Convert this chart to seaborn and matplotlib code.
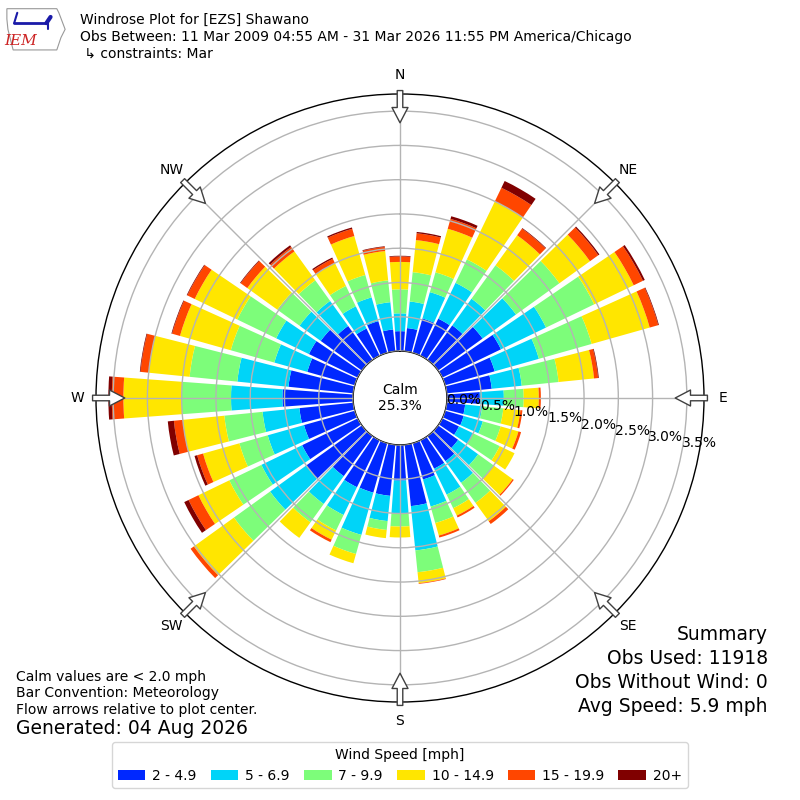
import numpy as np
import matplotlib
matplotlib.use("Agg")
import matplotlib.pyplot as plt
from matplotlib.patches import Polygon
import seaborn as sns

# direction bins (degrees, meteorological) and speed bins
directions = np.arange(0, 360, 10)
speed_labels = ["2 - 4.9", "5 - 6.9", "7 - 9.9", "10 - 14.9", "15 - 19.9", "20+"]
speed_colors = ["#0028ff", "#00d4f8", "#7dfd7a", "#ffe600", "#ff4600", "#800000"]

pct_2_5 = [0.29, 0.34, 0.52, 0.60, 0.62, 0.80, 0.95, 0.75, 0.66, 0.48, 0.27, 0.28,
           0.27, 0.36, 0.45, 0.46, 0.55, 0.90, 0.52, 0.75, 0.75, 0.76, 0.72, 1.00,
           0.90, 0.77, 0.79, 1.03, 0.95, 0.72, 0.79, 0.74, 0.61, 0.44, 0.48, 0.32]
pct_5_7 = [0.26, 0.39, 0.40, 0.58, 0.48, 0.60, 0.73, 0.67, 0.44, 0.35, 0.25, 0.29,
           0.23, 0.36, 0.39, 0.42, 0.41, 0.65, 0.48, 0.37, 0.64, 0.45, 0.50, 0.65,
           0.66, 0.55, 0.54, 0.75, 0.75, 0.50, 0.53, 0.38, 0.45, 0.36, 0.36, 0.40]
pct_7_10 = [0.35, 0.43, 0.30, 0.38, 0.60, 0.78, 0.78, 0.80, 0.54, 0.29, 0.31, 0.27,
            0.43, 0.28, 0.36, 0.22, 0.25, 0.32, 0.19, 0.13, 0.29, 0.25, 0.33, 0.65,
            0.52, 0.43, 0.56, 0.72, 0.70, 0.66, 0.63, 0.40, 0.37, 0.33, 0.34, 0.32]
pct_10_15 = [0.40, 0.47, 0.66, 0.94, 0.54, 0.55, 0.64, 0.88, 0.52, 0.22, 0.25, 0.27,
             0.24, 0.34, 0.33, 0.12, 0.19, 0.16, 0.16, 0.12, 0.14, 0.15, 0.28, 0.72,
             0.50, 0.55, 0.61, 0.85, 0.60, 0.77, 0.69, 0.54, 0.52, 0.37, 0.59, 0.43]
pct_15_20 = [0.08, 0.10, 0.15, 0.22, 0.12, 0.15, 0.15, 0.13, 0.06, 0.03, 0.03, 0.04,
             0.00, 0.02, 0.05, 0.03, 0.03, 0.01, 0.00, 0.00, 0.00, 0.04, 0.00, 0.06,
             0.16, 0.09, 0.13, 0.17, 0.12, 0.12, 0.12, 0.12, 0.08, 0.07, 0.11, 0.06]
pct_20p = [0.01, 0.02, 0.04, 0.11, 0.01, 0.02, 0.03, 0.01, 0.01, 0.00, 0.00, 0.00,
           0.00, 0.00, 0.00, 0.00, 0.00, 0.00, 0.00, 0.00, 0.00, 0.00, 0.00, 0.00,
           0.07, 0.04, 0.09, 0.05, 0.01, 0.01, 0.01, 0.01, 0.03, 0.02, 0.02, 0.01]

calm_pct = 25.3
rticks = [0.0, 0.5, 1.0, 1.5, 2.0, 2.5, 3.0, 3.5]
compass = ["N", "NE", "E", "SE", "S", "SW", "W", "NW"]

sns.set_style("white")
plt.rcParams["font.family"] = ["DejaVu Sans"]
plt.rcParams["text.color"] = "black"
plt.rcParams["xtick.color"] = "black"
plt.rcParams["ytick.color"] = "black"
plt.rcParams["axes.labelcolor"] = "black"

fig = plt.figure(figsize=(8, 8), dpi=100)
ax = fig.add_axes([0.12, 0.1225, 0.76, 0.76], polar=True)
ax.set_theta_zero_location("N")
ax.set_theta_direction(-1)

# stacked bars
theta = np.deg2rad(directions)
width = np.deg2rad(8.5)
bins = [pct_2_5, pct_5_7, pct_7_10, pct_10_15, pct_15_20, pct_20p]
palette = sns.color_palette(speed_colors)
bottom = np.zeros(len(directions))
for vals, col, lab in zip(bins, palette, speed_labels):
    vals = np.asarray(vals)
    ax.bar(theta, vals, width=width, bottom=bottom, color=col, linewidth=0, label=lab, zorder=1)
    bottom = bottom + vals

ax.set_ylim(0, 3.75)
ax.set_rorigin(-0.685)
ax.set_yticks(rticks)
ax.set_yticklabels([f"{v:.1f}%" for v in rticks], fontsize=10)
ax.set_rlabel_position(100.5)
ax.set_xticks(np.deg2rad(np.arange(0, 360, 45)))
ax.set_xticklabels(compass, fontsize=10)
ax.tick_params(axis="x", pad=3)
ax.grid(True, color="#b4b4b4", linewidth=1)
ax.set_axisbelow(False)
for name, sp in ax.spines.items():
    sp.set_color("black")
    sp.set_linewidth(1)

# calm label
ax.text(0.5, 0.5, f"Calm\n{calm_pct:.1f}%", transform=ax.transAxes, ha="center",
        va="center", fontsize=10, zorder=5)

# flow arrows pointing to center
for d in range(0, 360, 45):
    t = np.deg2rad(d)
    ax.annotate("", xy=(t, 3.33), xytext=(t, 3.80), xycoords="data",
                arrowprops=dict(width=4, headwidth=11.5, headlength=11, shrink=0,
                                facecolor="white", edgecolor="#404040", linewidth=1),
                annotation_clip=False, zorder=6)

# header text
fig.text(0.1, 1 - 20 / 800, "Windrose Plot for [EZS] Shawano", fontsize=10, va="center")
fig.text(0.1, 1 - 37 / 800, "Obs Between: 11 Mar 2009 04:55 AM - 31 Mar 2026 11:55 PM America/Chicago",
         fontsize=10, va="center")
fig.text(0.1, 1 - 54 / 800, " \u21b3 constraints: Mar", fontsize=10, va="center")

# simple IEM logo
lax = fig.add_axes([0.006, 0.935, 0.078, 0.058])
lax.set_xlim(0, 60)
lax.set_ylim(0, 45)
lax.axis("off")
iowa = [(2, 42), (50, 42), (52, 38), (55, 30), (58, 22), (54, 14), (52, 8), (50, 2),
        (8, 2), (6, 10), (3, 22), (2, 32)]
lax.add_patch(Polygon(iowa, closed=True, fill=False, edgecolor="#999999", linewidth=0.8))
lax.plot([9, 40], [28, 28], color="#1a1aa8", lw=2)
lax.plot([9, 12], [28, 38], color="#1a1aa8", lw=1.5)
lax.plot([40, 44], [28, 34], color="#1a1aa8", lw=3)
lax.plot([42, 42], [28, 22], color="#1a1aa8", lw=1.5)
lax.text(15, 11, "IEM", color="#cc2222", fontsize=11, fontstyle="italic",
         family="DejaVu Serif", ha="center", va="center")

# footnotes
fig.text(0.02, 1 - 677 / 800, "Calm values are < 2.0 mph", fontsize=10, va="center")
fig.text(0.02, 1 - 693 / 800, "Bar Convention: Meteorology", fontsize=10, va="center")
fig.text(0.02, 1 - 710 / 800, "Flow arrows relative to plot center.", fontsize=10, va="center")
fig.text(0.02, 1 - 729 / 800, "Generated: 04 Aug 2026", fontsize=13.5, va="center")

summary = ["Summary", "Obs Used: 11918", "Obs Without Wind: 0", "Avg Speed: 5.9 mph"]
for i, s in enumerate(summary):
    fig.text(0.96, 1 - (635 + 23.7 * i) / 800, s, fontsize=13.5, ha="right", va="center")

fig.legend(loc="lower center", bbox_to_anchor=(0.5, 0.006), ncol=6,
           title="Wind Speed [mph]", fontsize=10, title_fontsize=10, frameon=True,
           handletextpad=0.5, columnspacing=1.0)

fig.savefig("out.png", dpi=100)
